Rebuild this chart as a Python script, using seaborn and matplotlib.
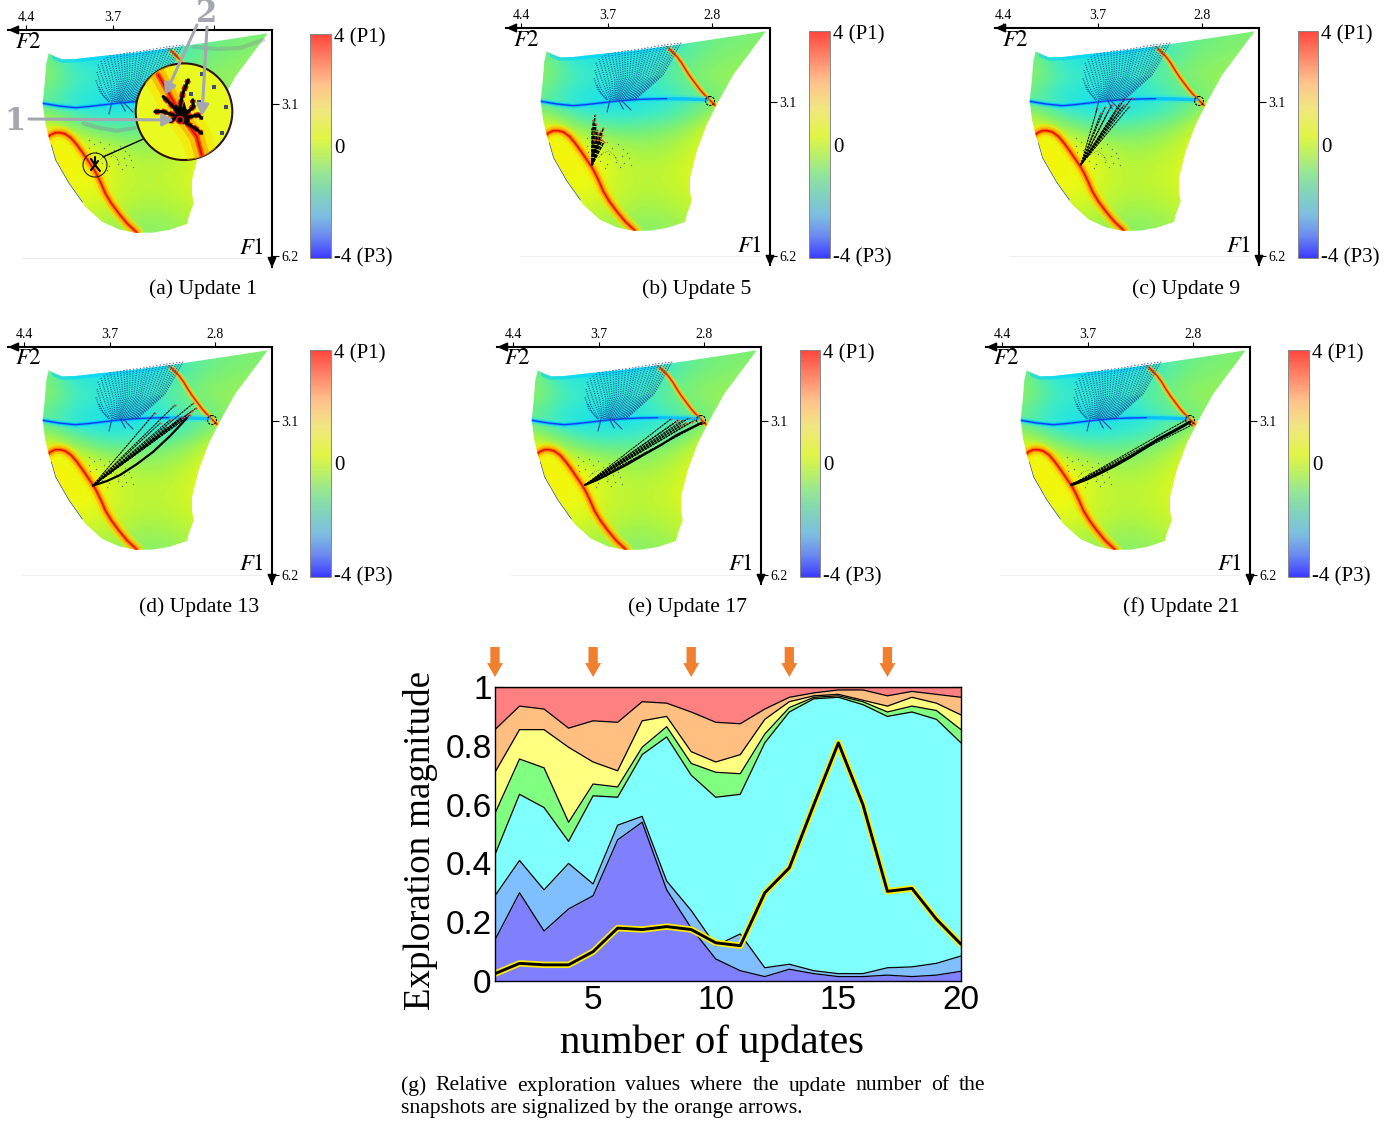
import numpy as np
import pandas as pd
import matplotlib
matplotlib.use('Agg')
import matplotlib.pyplot as plt
import seaborn as sns
from matplotlib.cm import ScalarMappable
from matplotlib.colors import LinearSegmentedColormap, Normalize
from matplotlib.patches import Circle, Polygon

# ---- stacked exploration chart, upper boundary of each band
UPDATES = list(range(1, 21))
TOP_P3 = [0.14, 0.30, 0.17, 0.245, 0.29, 0.48, 0.54, 0.31, 0.18, 0.075, 0.035, 0.015, 0.04, 0.025, 0.015, 0.015, 0.02, 0.015, 0.02, 0.033]
TOP_P3_WEAK = [0.29, 0.41, 0.31, 0.40, 0.33, 0.53, 0.56, 0.34, 0.24, 0.12, 0.16, 0.045, 0.057, 0.035, 0.025, 0.025, 0.045, 0.048, 0.06, 0.085]
TOP_NEUTRAL = [0.43, 0.635, 0.59, 0.475, 0.63, 0.625, 0.77, 0.83, 0.70, 0.625, 0.635, 0.81, 0.915, 0.96, 0.965, 0.94, 0.90, 0.915, 0.89, 0.81]
TOP_GREEN = [0.57, 0.755, 0.725, 0.54, 0.67, 0.66, 0.795, 0.865, 0.74, 0.71, 0.705, 0.84, 0.93, 0.965, 0.97, 0.95, 0.915, 0.935, 0.92, 0.855]
TOP_YELLOW = [0.71, 0.855, 0.855, 0.795, 0.745, 0.715, 0.885, 0.90, 0.78, 0.745, 0.77, 0.89, 0.95, 0.97, 0.975, 0.955, 0.935, 0.965, 0.945, 0.905]
TOP_ORANGE = [0.855, 0.935, 0.925, 0.86, 0.885, 0.88, 0.95, 0.945, 0.915, 0.88, 0.875, 0.925, 0.965, 0.98, 0.99, 0.99, 0.97, 0.985, 0.975, 0.965]
TOP_RED = [1.0] * 20
EXPLORATION = [0.025, 0.06, 0.055, 0.055, 0.10, 0.18, 0.175, 0.185, 0.175, 0.13, 0.12, 0.30, 0.385, 0.60, 0.81, 0.60, 0.305, 0.315, 0.21, 0.125]
ARROW_UPDATES = [1, 5, 9, 13, 17]
BAND_COLORS = ['#8080ff', '#80bfff', '#80ffff', '#80ff80', '#ffff80', '#ffbf80', '#ff8080']

# ---- map panels: label, caption, corner px, F2 ticks, 6.2 tick, colorbar box px, caption centre px
PANEL_NAMES = ['a', 'b', 'c', 'd', 'e', 'f']
PANEL_CAPTIONS = ['(a) Update 1', '(b) Update 5', '(c) Update 9', '(d) Update 13', '(e) Update 17', '(f) Update 21']
PANEL_CORNERS = [(272, 30), (770, 28), (1259, 28), (272, 347), (761, 347), (1250, 347)]
PANEL_F2_TICKS = [(246, 159, 58), (249, 162, 58), (256, 161, 57), (248, 162, 57), (248, 162, 57), (248, 162, 57)]
PANEL_F1_END = [226, 228, 228, 228, 228, 228]
PANEL_CBARS = [(310, 331, 34, 258), (809, 830, 31, 258), (1298, 1318, 31, 258), (310, 331, 350, 577), (800, 820, 350, 577), (1288, 1309, 350, 577)]
PANEL_CAPTION_POS = [(203, 289), (697, 289), (1186, 289), (199, 607), (688, 607), (1181, 607)]
F2_TICK_LABELS = ['4.4', '3.7', '2.8']
F1_TICK_LABELS = ['3.1', '6.2']

# map outline, px left of and below the axis corner
OUTLINE_U = [4.3, 36.7, 70, 103.3, 136.7, 170, 196.7, 210, 216.7, 223.3, 225.7, 227.3, 229.3, 226.7, 223.3, 216.7, 203.3, 186.7, 170, 153.3, 136.7, 120, 103.3, 85, 83.3, 78.3, 80, 80, 73.3, 63.3, 53.3, 36.7, 16.7]
OUTLINE_V = [3.3, 8.3, 13.3, 18.3, 22.7, 26, 29, 29.3, 26.7, 23.3, 33.3, 53.3, 73.3, 93.3, 106.7, 130, 153.3, 176.7, 191.7, 199.3, 202.7, 202.7, 200, 194, 186.7, 173.3, 163.3, 150, 123.3, 96.7, 76.7, 46.7, 20]

# coarse read of the field, columns u = 0..225, rows v = 0..200, both every 25 px
FIELD_ROWS = [
    [-0.7, -0.7, -0.8, -1.0, -1.3, -1.7, -2.1, -2.1, -1.8, -1.0],
    [-0.5, -0.6, -0.7, -0.9, -1.4, -1.7, -1.6, -1.8, -1.6, -0.7],
    [-0.4, -0.4, -0.4, -0.5, -0.8, -1.2, -1.3, -1.2, -1.0, -0.4],
    [-0.5, -0.3, -0.8, -1.2, -1.6, -1.8, -1.9, -1.9, -1.7, -1.2],
    [0.7, 0.7, 0.4, -0.3, -0.6, -0.8, -0.9, -0.8, -0.3, 0.4],
    [0.7, 0.7, 0.6, 0.1, -0.2, -0.3, -0.1, 0.3, 0.6, 0.9],
    [0.5, 0.5, 0.3, 0.2, 0.0, -0.1, 0.0, 0.3, 0.5, 0.5],
    [0.3, 0.3, 0.2, 0.0, -0.2, -0.3, -0.1, 0.1, 0.2, -0.3],
    [0.1, 0.1, 0.0, -0.3, -0.5, -0.6, -0.5, -0.3, -0.5, -1.0],
]

RIDGE_UP_U = [103.3, 98.3, 93.3, 88.3, 84.3, 80, 75, 70, 65, 60, 55]
RIDGE_UP_V = [18.3, 23.3, 28.3, 35, 41.7, 48.3, 55, 61.7, 67.3, 72.3, 77.3]
RIDGE_LOW_U = [225, 221.7, 216.7, 211.7, 206.7, 200.7, 195, 189, 183.3, 178.3, 175, 171, 166.7, 160.7, 153.3, 145, 135]
RIDGE_LOW_V = [108.3, 105, 102.7, 102.7, 104, 108.3, 115, 123.3, 131.7, 139, 145, 153.3, 163.3, 173.3, 183.3, 193.3, 202.7]
BLUE_LINE_U = [229.3, 213, 196.7, 183, 170, 153, 136.7, 120, 103.3, 85, 63.3]
BLUE_LINE_V = [73.3, 76, 77.7, 76.5, 75, 73, 71.7, 71, 70.7, 71, 71.7]
BLUE_RIM_U = [221, 216.7, 203.3, 190]
BLUE_RIM_V = [115, 130, 153.3, 172]

# dotted fan above the blue line
FAN_TOP_U = [89, 92, 95, 98.5, 102, 105, 108, 111.5, 115, 118.5, 122, 125, 128, 131.5, 135, 138.5, 142, 145, 148, 151.5, 155, 158.5, 162, 165, 168, 171, 174, 175, 176, 173]
FAN_TOP_V = [14.7, 15, 15.3, 15.7, 16, 16.5, 17, 17.5, 18, 18.7, 19.3, 19.8, 20.3, 20.8, 21.3, 21.7, 22, 22.5, 23, 23.7, 24.3, 24.8, 25.3, 27, 28.7, 31, 34.7, 42, 50.3, 57]
FAN_MID_U = [107, 109, 111, 113, 115, 117.5, 120, 122.5, 125, 127.5, 130, 132, 134, 136, 138.3, 140.5, 142.7, 144.7, 146.7, 148.7, 150.7, 152.8, 155, 158, 161, 164, 167, 170, 172, 169]
FAN_MID_V = [47, 47.5, 48, 48.3, 48.7, 49, 49.3, 49.3, 49.3, 49.3, 49.3, 49.3, 49.3, 49.3, 49.3, 49.3, 49.3, 49.8, 50.3, 50.8, 51.3, 52, 52.7, 53, 53.7, 54.5, 55.3, 58.7, 62, 65.3]
FAN_END_U = [135, 135.8, 136.7, 137.8, 139, 140, 141, 142, 143.3, 144.5, 145.7, 147, 148, 149, 150, 150.8, 151.7, 152.5, 153.3, 154, 155, 155.8, 156.7, 157.5, 158.3, 159, 160, 161.7, 162.7, 163.3]
FAN_END_V = [72] * 30
TAIL_U = [[160, 163], [151.7, 146.7], [148, 139]]
TAIL_V = [[72, 84], [72, 81], [73, 82]]

# loose dots around the start of the exploration
DOTS_U = [183, 178, 172, 168, 163, 158, 152, 147, 143, 183, 176, 169, 161, 155, 148, 141, 170, 163, 154, 146, 139, 182, 165, 150]
DOTS_V = [110, 114, 112, 118, 114, 120, 116, 121, 125, 118, 122, 126, 126, 129, 128, 130, 133, 136, 134, 135, 137, 124, 140, 139]
BUMP_U = [172, 167, 161, 156, 152]
BUMP_V = [130, 125, 123, 127, 134]

# exploration rays, ends per panel, start shared inside each panel
RAY_START_U = {'b': 178.3, 'c': 178.3, 'd': 179.3, 'e': 176, 'f': 178.3}
RAY_START_V = {'b': 137.7, 'c': 137, 'd': 138.7, 'e': 138, 'f': 137.7}
RAY_END_U = {
    'b': [175, 178.3, 172.7, 166.7, 166, 168.3, 176.7, 171.7, 174, 170, 177, 173, 169, 176, 172, 168],
    'c': [161.7, 154, 147.3, 139, 134, 127.3, 129.7, 137.3, 145.7, 158, 150, 143, 135],
    'd': [117, 97, 78.7, 76.3, 85.3, 92, 102, 112, 82, 88, 95, 105, 80, 84, 90],
    'e': [82.7, 77.7, 66, 59.3, 69.3, 85, 72, 90, 75, 80, 64],
    'f': [60, 64, 58],
}
RAY_END_V = {
    'b': [87, 100.3, 102, 100.3, 113.7, 107, 92, 105.3, 96, 110, 105, 108, 103, 112, 112, 112],
    'c': [80.3, 79.3, 77, 75.3, 70.3, 70.3, 78.7, 79.3, 88.7, 85, 82, 82, 77],
    'd': [65.7, 58, 56.3, 61.3, 70.3, 71.3, 73, 76.3, 68, 72, 75, 80, 64, 67, 70],
    'e': [73, 73, 73, 76.3, 74.7, 75, 71, 72, 76, 78, 78],
    'f': [75, 73, 78],
}
BUNDLE_U = {'d': [179.3, 165, 152, 135, 118.7, 102, 85.3], 'e': [176, 163, 151, 134, 117.7, 100, 84.3, 70, 59.3], 'f': [178.3, 164, 150, 135, 120, 106, 93, 76, 60]}
BUNDLE_V = {'d': [138.7, 134, 128, 117, 104.7, 89, 71.3], 'e': [138, 132.5, 126.3, 117.5, 108, 98, 88, 81, 75.7], 'f': [137.7, 132.5, 126, 118.5, 110, 101.5, 93, 84, 75]}
TARGET_U, TARGET_V = 60, 73

# panel (a) magnified blob and callouts
INSET_U, INSET_V, INSET_R = 88, 81.7, 48.3
BLOB_U, BLOB_V, BLOB_R = 177, 135, 12
BRANCHES_U = [[92, 100.3, 108.7], [92, 89.3, 83.7], [98.7, 108.7, 117], [85.3, 77, 70.3], [85.3, 78.7, 79.3], [82, 73.7, 70.3], [95.3, 102]]
BRANCHES_V = [[85, 75, 66.7], [76.7, 63.3, 50], [85, 81.7, 81.7], [93.3, 98.3, 103.3], [83.3, 76.7, 70], [86.7, 85, 88.3], [86.7, 91.7]]
CORE_U = [92, 97, 84, 88, 92]
CORE_V = [88, 76, 92, 78, 88]
BRANCH_MID_U = 92
BRANCH_MID_V = 90
INSET_RIDGE_U = [113.7, 92, 75.3, 70.3]
INSET_RIDGE_V = [45, 83.3, 106.7, 125]
INSET_DOTS_U = [70.3, 58, 81, 72.7, 46.3, 49.7]
INSET_DOTS_V = [44, 56.7, 64.3, 71.7, 76.7, 103.3]
GREY_ARC_LOW_U = [188.7, 172, 155, 137]
GREY_ARC_LOW_V = [93.3, 98, 100.7, 98]
GREY_ARC_TOP_U = [78.7, 55, 32, 8.7]
GREY_ARC_TOP_V = [16.7, 19, 18, 10]

FIG_W, FIG_H = 1398, 1121

FIELD_STOPS = [(-4, (0, 0, 255)), (-3, (0, 100, 255)), (-2, (0, 220, 255)), (-1.3, (60, 235, 200)),
               (-0.7, (120, 240, 120)), (-0.2, (180, 245, 60)), (0.3, (235, 250, 20)), (0.9, (255, 240, 0)),
               (1.5, (255, 190, 0)), (2.3, (255, 110, 0)), (3.5, (240, 20, 0)), (4, (230, 0, 0))]
CBAR_STOPS = [(-4, (60, 60, 255)), (-3.2, (110, 140, 240)), (-2.5, (125, 190, 225)), (-1.6, (130, 215, 180)),
              (-1, (150, 230, 150)), (-0.3, (190, 240, 100)), (0.3, (225, 245, 70)), (1.3, (240, 230, 130)),
              (2.2, (255, 195, 140)), (3, (255, 140, 110)), (4, (255, 70, 60))]


def make_cmap(name, stops):
    return LinearSegmentedColormap.from_list(
        name, [((v + 4) / 8, tuple(c / 255 for c in rgb)) for v, rgb in stops])


field_cmap = make_cmap('field', FIELD_STOPS)
cbar_cmap = make_cmap('bar', CBAR_STOPS)
norm = Normalize(-4, 4)

sns.set_theme(style='ticks')
plt.rcParams['font.family'] = ['Liberation Serif', 'DejaVu Serif']
plt.rcParams['mathtext.fontset'] = 'stix'

fig = plt.figure(figsize=(FIG_W / 100, FIG_H / 100), dpi=100)


def px_axes(left, right, top, bottom, **kw):
    return fig.add_axes([left / FIG_W, 1 - bottom / FIG_H, (right - left) / FIG_W, (bottom - top) / FIG_H], **kw)


def clipped_line(ax, clip, u, v, **kw):
    line, = ax.plot(u, v, solid_capstyle='round', solid_joinstyle='round', **kw)
    line.set_clip_path(clip)
    return line


def draw_map(ax, name):
    ax.plot([250, 10], [228, 228], color='#eeeeee', lw=0.7, zorder=0)
    outline = Polygon(np.column_stack([OUTLINE_U, OUTLINE_V]), closed=True, transform=ax.transData,
                      fc='none', ec='none')
    ax.add_patch(outline)
    im = ax.imshow(np.array(FIELD_ROWS), extent=(-12.5, 237.5, 212.5, -12.5), origin='upper', cmap=field_cmap,
                   norm=norm, interpolation='bicubic', aspect='auto', zorder=1)
    im.set_clip_path(outline)

    # ridges, widest stroke first
    for lw, col, alpha in [(10, '#ffe000', 0.5), (6, '#ffb000', 0.7), (3, '#ff7000', 0.9), (1.2, '#e81000', 1)]:
        clipped_line(ax, outline, RIDGE_LOW_U, RIDGE_LOW_V, lw=lw, color=col, alpha=alpha, zorder=2)
    for lw, col, alpha in [(5, '#ffe000', 0.45), (2.8, '#ffa000', 0.75), (1.1, '#f02000', 1)]:
        clipped_line(ax, outline, RIDGE_UP_U, RIDGE_UP_V, lw=lw, color=col, alpha=alpha, zorder=2)
    for lw, col, alpha in [(5, '#20e0ff', 0.4), (2.4, '#00b8ff', 0.8)]:
        clipped_line(ax, outline, BLUE_LINE_U, BLUE_LINE_V, lw=lw, color=col, alpha=alpha, zorder=2)
    clipped_line(ax, outline, BLUE_LINE_U[:9], BLUE_LINE_V[:9], lw=1.0, color='#1040f0', zorder=2)
    clipped_line(ax, outline, OUTLINE_U[3:9], OUTLINE_V[3:9], lw=5, color='#00d0ff', alpha=0.55, zorder=2)
    clipped_line(ax, outline, BLUE_RIM_U, BLUE_RIM_V, lw=0.9, color='#2040e0', zorder=2)

    # fan and dots
    for i in range(len(FAN_TOP_U)):
        ax.plot([FAN_TOP_U[i], FAN_MID_U[i], FAN_END_U[i]], [FAN_TOP_V[i], FAN_MID_V[i], FAN_END_V[i]],
                ls=(0, (0.8, 0.9)), lw=0.95, color='#1c4a9c', alpha=0.85, zorder=3)
    for u, v in zip(TAIL_U, TAIL_V):
        ax.plot(u, v, lw=0.8, color='#1c4a9c', zorder=3)
    ax.scatter(DOTS_U, DOTS_V, s=1.0, color='#667788', lw=0, zorder=3)
    ax.plot(BUMP_U, BUMP_V, lw=0.5, ls=':', color='#556677', zorder=3)

    if name == 'a':
        return
    ax.add_patch(Circle((TARGET_U, TARGET_V), 4.5, fc='none', ec='black', lw=0.8, ls=(0, (2, 1)), zorder=6))
    ray_lw = 1.1 if name == 'b' else 0.75
    for ue, ve in zip(RAY_END_U[name], RAY_END_V[name]):
        ax.plot([RAY_START_U[name], ue], [RAY_START_V[name], ve], lw=ray_lw, ls=(0, (2.2, 0.7)), color='black', zorder=5)
        ax.scatter([ue], [ve], s=2.2, color='#d85030', lw=0, zorder=5)
    if name in BUNDLE_U:
        ax.plot(BUNDLE_U[name], BUNDLE_V[name], lw=2.2 if name == 'f' else 1.6, color='black',
                solid_capstyle='round', solid_joinstyle='round', zorder=5)


def draw_inset(ax):
    # greyed arcs behind the callouts
    ax.plot(GREY_ARC_LOW_U, GREY_ARC_LOW_V, lw=3, color='#888899', alpha=0.4, zorder=4)
    ax.plot(GREY_ARC_TOP_U, GREY_ARC_TOP_V, lw=3, color='#888899', alpha=0.35, zorder=4)

    # magnified disc in panel (a)
    disc = Circle((INSET_U, INSET_V), INSET_R, fc='#e8fa20', ec='#301010', lw=1.5, zorder=7)
    ax.add_patch(disc)
    for lw, col, alpha in [(22, '#ffe000', 0.5), (11, '#ffa000', 0.6), (4, '#ff4000', 0.9), (1.4, '#d81000', 1)]:
        line, = ax.plot(INSET_RIDGE_U, INSET_RIDGE_V, lw=lw, color=col, alpha=alpha, zorder=7.1)
        line.set_clip_path(disc)
    for bu, bv in zip(BRANCHES_U, BRANCHES_V):
        ax.plot([BRANCH_MID_U] + bu, [BRANCH_MID_V] + bv, lw=4.2, ls=(0, (0.9, 0.4)), color='#e01818', zorder=7.2)
    for bu, bv in zip(BRANCHES_U, BRANCHES_V):
        ax.plot([BRANCH_MID_U] + bu, [BRANCH_MID_V] + bv, lw=2.4, color='black', zorder=7.3)
    ax.fill(CORE_U, CORE_V, color='black', lw=3, zorder=7.3)
    ax.add_patch(Circle((BRANCH_MID_U, BRANCH_MID_V), 3.5, fc='black', ec='#e01818', lw=1.2, zorder=7.4))
    ax.scatter(INSET_DOTS_U, INSET_DOTS_V, s=6, color='#404a80', marker='s', lw=0, zorder=7.3)

    # small circle at start and the connector
    ax.plot([BLOB_U - 8, INSET_U + 40], [BLOB_V - 8, INSET_V + 27], lw=1.0, color='black', zorder=6)
    ax.add_patch(Circle((BLOB_U, BLOB_V), BLOB_R, fc='none', ec='#202020', lw=0.8, zorder=6))
    for ue, ve in zip([181, 172, 174, 181, 177], [129, 141, 131, 140, 127]):
        ax.plot([BLOB_U, ue], [BLOB_V, ve], lw=1.5, color='black', zorder=6)

    # grey callouts
    grey = '#a6a6b0'
    for start, end in [((243, 89), (98, 90)), ((75, -5), (107, 65)), ((65, -3), (70, 86))]:
        ax.annotate('', xy=end, xytext=start, zorder=9, annotation_clip=False,
                    arrowprops=dict(arrowstyle='-|>,head_length=0.55,head_width=0.3', color=grey, lw=2.2, shrinkA=0, shrinkB=0))


def draw_panel(i):
    name = PANEL_NAMES[i]
    cx, cy = PANEL_CORNERS[i]
    ax = px_axes(cx - 264, cx, cy, cy + 237)
    ax.patch.set_alpha(0)
    draw_map(ax, name)
    if name == 'a':
        draw_inset(ax)
    ax.set_xlim(264, 0)
    ax.set_ylim(237, 0)
    sns.despine(ax=ax, left=True, bottom=True, top=False, right=False)
    for side in ['top', 'right']:
        ax.spines[side].set_linewidth(1.5)
        ax.spines[side].set_color('black')
    ax.xaxis.tick_top()
    ax.yaxis.tick_right()
    # in (a) the 2.8 label sits under the big grey callout digit
    labels = ['4.4', '3.7', ''] if name == 'a' else F2_TICK_LABELS
    ax.set_xticks(PANEL_F2_TICKS[i], labels)
    ax.set_yticks([74, PANEL_F1_END[i]], F1_TICK_LABELS)
    ax.tick_params(axis='x', direction='out', length=3.5, width=0.8, pad=1, labelsize=10, colors='black')
    ax.tick_params(axis='y', direction='out', length=5, width=0.8, pad=2, labelsize=10, colors='black')
    for start, end in [((10, 0), (264, 0)), ((0, 10), (0, 238))]:
        ax.annotate('', xy=end, xytext=start, annotation_clip=False,
                    arrowprops=dict(arrowstyle='-|>,head_length=0.5,head_width=0.22', color='black', lw=1.2, shrinkA=0, shrinkB=0))
    ax.text(244, 12, r'$F2$', fontsize=16.5, ha='center', va='center', color='black')
    ax.text(20, 218, r'$F1$', fontsize=16.5, ha='center', va='center', color='black')

    x0, x1, y0, y1 = PANEL_CBARS[i]
    cax = px_axes(x0, x1, y0, y1)
    cb = fig.colorbar(ScalarMappable(norm=norm, cmap=cbar_cmap), cax=cax)
    # the end labels sit a little inside the bar ends, only the 0 tick shows
    cb.set_ticks([-3.9, 0, 3.95], labels=['-4 (P3)', '0', '4 (P1)'])
    cb.ax.tick_params(length=4, width=0.8, pad=2, labelsize=15, direction='in', colors='black')
    ticks = cb.ax.yaxis.get_major_ticks()
    for t in [ticks[0], ticks[2]]:
        t.tick1line.set_visible(False)
        t.tick2line.set_visible(False)
    cb.outline.set_edgecolor('#888888')
    cb.outline.set_linewidth(0.7)

    capx, capy = PANEL_CAPTION_POS[i]
    fig.text(capx / FIG_W, 1 - capy / FIG_H, PANEL_CAPTIONS[i], fontsize=15.6, ha='center', va='center', color='black')


for i in range(len(PANEL_NAMES)):
    draw_panel(i)

# big callout digits of panel (a)
fig.text(15 / FIG_W, 1 - 121 / FIG_H, '1', family='DejaVu Serif', weight='bold', fontsize=22, color='#a6a6b0', ha='center', va='center')
fig.text(207 / FIG_W, 1 - 14 / FIG_H, '2', family='DejaVu Serif', weight='bold', fontsize=22, color='#a6a6b0', ha='center', va='center')

# ---- stacked chart
ax = px_axes(495, 961, 687, 981)
df = pd.DataFrame({'update': UPDATES, 'exploration': EXPLORATION})
tops = [TOP_P3, TOP_P3_WEAK, TOP_NEUTRAL, TOP_GREEN, TOP_YELLOW, TOP_ORANGE, TOP_RED]
lower = [0.0] * 20
for top, col in zip(tops, BAND_COLORS):
    ax.fill_between(UPDATES, lower, top, color=col, lw=0, zorder=1)
    ax.plot(UPDATES, top, color='black', lw=0.9, zorder=2)
    lower = top
sns.lineplot(data=df, x='update', y='exploration', color='#ffee00', lw=4.6, ax=ax, zorder=3)
sns.lineplot(data=df, x='update', y='exploration', color='black', lw=2.1, ax=ax, zorder=4)
ax.set_xlim(1, 20)
ax.set_ylim(0, 1)
ax.set_xlabel('')
ax.set_ylabel('')
ax.set_xticks([5, 10, 15, 20])
ax.set_yticks([0, 0.2, 0.4, 0.6, 0.8, 1], ['0', '0.2', '0.4', '0.6', '0.8', '1'])
ax.set_yticks(np.arange(1, 10, 2) / 10, minor=True)
for lab in ax.get_xticklabels() + ax.get_yticklabels():
    lab.set_family('Liberation Sans')
ax.tick_params(which='both', direction='in', top=False, right=True, length=5, width=0.8, labelsize=24, colors='black')
ax.tick_params(axis='x', pad=3)
ax.tick_params(axis='y', pad=2.5)
for s in ax.spines.values():
    s.set_visible(True)
    s.set_color('black')
    s.set_linewidth(1)
    s.set_zorder(6)

for u in ARROW_UPDATES:
    ax.annotate('', xy=(u, 1.034), xytext=(u, 1.136), xycoords=('data', 'axes fraction'), textcoords=('data', 'axes fraction'),
                annotation_clip=False, arrowprops=dict(width=6.7, headwidth=11.5, headlength=10, shrink=0, fc='#f08030', ec='none'))

fig.text(421 / FIG_W, 1 - 841 / FIG_H, 'Exploration magnitude', rotation=90, fontsize=26.6, ha='center', va='center', color='black')
fig.text(712 / FIG_W, 1 - 1043 / FIG_H, 'number of updates', fontsize=29.4, ha='center', va='center', color='black')


def justified(words, left, right, y, size):
    rend = fig.canvas.get_renderer()
    items = [fig.text(left / FIG_W, 1 - y / FIG_H, w, fontsize=size, va='center', ha='left', color='black') for w in words]
    widths = [t.get_window_extent(rend).width for t in items]
    gap = (right - left - sum(widths)) / (len(words) - 1)
    x = left
    for t, w in zip(items, widths):
        t.set_x(x / FIG_W)
        x += w + gap


justified('(g) Relative exploration values where the update number of the'.split(), 401, 985, 1086, 15.6)
fig.text(401 / FIG_W, 1 - 1109 / FIG_H, 'snapshots are signalized by the orange arrows.', fontsize=15.6, va='center', ha='left', color='black')

fig.savefig('out.png', dpi=100)
